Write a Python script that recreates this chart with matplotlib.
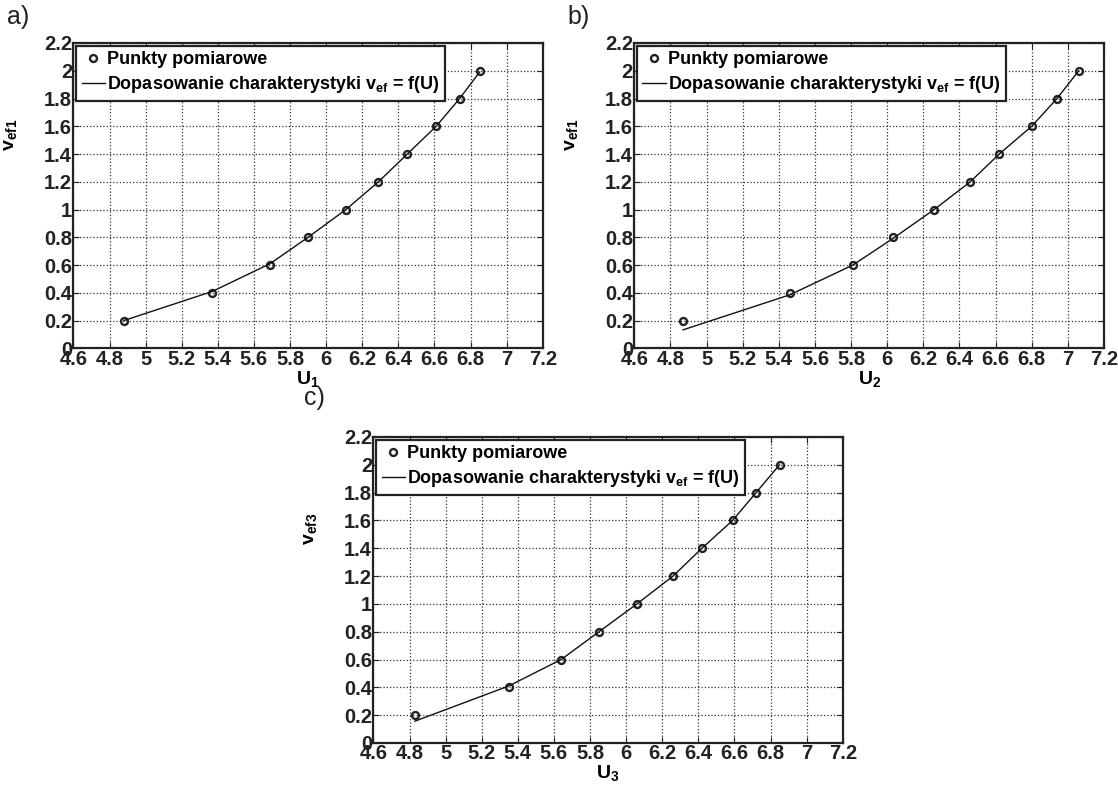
import matplotlib
matplotlib.use("Agg")
import matplotlib.pyplot as plt

plt.rcParams['font.family'] = ['Liberation Sans', 'DejaVu Sans']
plt.rcParams['mathtext.fontset'] = 'custom'
plt.rcParams['mathtext.rm'] = 'Liberation Sans:bold'
plt.rcParams['mathtext.it'] = 'Liberation Sans:bold'
plt.rcParams['mathtext.bf'] = 'Liberation Sans:bold'

# ---- data ----
v_levels = [0.2, 0.4, 0.6, 0.8, 1.0, 1.2, 1.4, 1.6, 1.8, 2.0]

U1 = [4.88, 5.37, 5.69, 5.90, 6.11, 6.29, 6.45, 6.61, 6.74, 6.85]
fit1 = [0.20, 0.41, 0.61, 0.80, 1.00, 1.20, 1.40, 1.60, 1.80, 1.99]

U2 = [4.87, 5.46, 5.81, 6.03, 6.26, 6.46, 6.62, 6.80, 6.94, 7.06]
fit2 = [0.133, 0.385, 0.60, 0.79, 1.00, 1.20, 1.40, 1.60, 1.80, 2.00]

U3 = [4.83, 5.35, 5.64, 5.85, 6.06, 6.26, 6.42, 6.59, 6.72, 6.85]
fit3 = [0.157, 0.41, 0.60, 0.80, 1.00, 1.20, 1.40, 1.60, 1.80, 2.00]

x_ticks = [4.6, 4.8, 5.0, 5.2, 5.4, 5.6, 5.8, 6.0, 6.2, 6.4, 6.6, 6.8, 7.0, 7.2]
x_tick_labels = ['4.6', '4.8', '5', '5.2', '5.4', '5.6', '5.8', '6', '6.2', '6.4', '6.6', '6.8', '7', '7.2']
y_ticks = [0, 0.2, 0.4, 0.6, 0.8, 1.0, 1.2, 1.4, 1.6, 1.8, 2.0, 2.2]
y_tick_labels = ['0', '0.2', '0.4', '0.6', '0.8', '1', '1.2', '1.4', '1.6', '1.8', '2', '2.2']

panels = [
    dict(U=U1, fit=fit1, xlabel=r'$\mathbf{U_1}$', ylabel=r'$\mathbf{v_{ef1}}$', tag='a)'),
    dict(U=U2, fit=fit2, xlabel=r'$\mathbf{U_2}$', ylabel=r'$\mathbf{v_{ef1}}$', tag='b)'),
    dict(U=U3, fit=fit3, xlabel=r'$\mathbf{U_3}$', ylabel=r'$\mathbf{v_{ef3}}$', tag='c)'),
]

W, H = 1118, 787
fig = plt.figure(figsize=(W / 100, H / 100), dpi=100)

# axes rectangles in pixels: left, right, top, bottom
rects = [(73.4, 542.7, 43, 348.3), (634.3, 1104, 43, 348.3), (373.4, 842.7, 437, 743)]
tag_pos = [(7, 17), (567, 17), (304, 398)]

FS_TICK = 14.5
FS_LEG = 13
FS_LAB = 14
for p, (l, r, t, b), (tx, ty) in zip(panels, rects, tag_pos):
    ax = fig.add_axes([l / W, 1 - b / H, (r - l) / W, (b - t) / H])
    ax.plot(p['U'], v_levels, linestyle='none', marker='o', markersize=5,
            markerfacecolor='none', markeredgecolor='#222222', markeredgewidth=1.7,
            label='Punkty pomiarowe')
    ax.plot(p['U'], p['fit'], color='#111111', linewidth=1.0,
            label='Dopasowanie charakterystyki v$_{ef}$ = f(U)')
    ax.set_xlim(4.6, 7.2)
    ax.set_ylim(0, 2.2)
    ax.set_xticks(x_ticks)
    ax.set_xticklabels(x_tick_labels, fontsize=FS_TICK, fontweight='bold')
    ax.set_yticks(y_ticks)
    ax.set_yticklabels(y_tick_labels, fontsize=FS_TICK, fontweight='bold')
    ax.tick_params(direction='in', length=4, width=0.8, top=True, right=True, pad=1.0,
                   colors='#222222')
    ax.grid(True, linestyle=':', color='#333333', linewidth=0.9)
    for s in ax.spines.values():
        s.set_linewidth(1.6)
        s.set_color('#222222')
    ax.set_xlabel(p['xlabel'], fontsize=FS_LAB, labelpad=0)
    ax.set_ylabel(p['ylabel'], fontsize=FS_LAB)
    ax.yaxis.set_label_coords(-0.115, 0.70)
    leg = ax.legend(loc='upper left', bbox_to_anchor=(0.0, 1.0), borderaxespad=0.15,
                    prop=dict(weight='bold', size=FS_LEG), numpoints=1,
                    handlelength=1.3, handletextpad=0.1, borderpad=0.3,
                    labelspacing=0.35, fancybox=False, framealpha=1, edgecolor='#222222')
    leg.get_frame().set_linewidth(1.6)
    fig.text(tx / W, 1 - ty / H, p['tag'], fontsize=18, ha='left', va='center', color='#222222')

fig.savefig('out.png', dpi=100)
